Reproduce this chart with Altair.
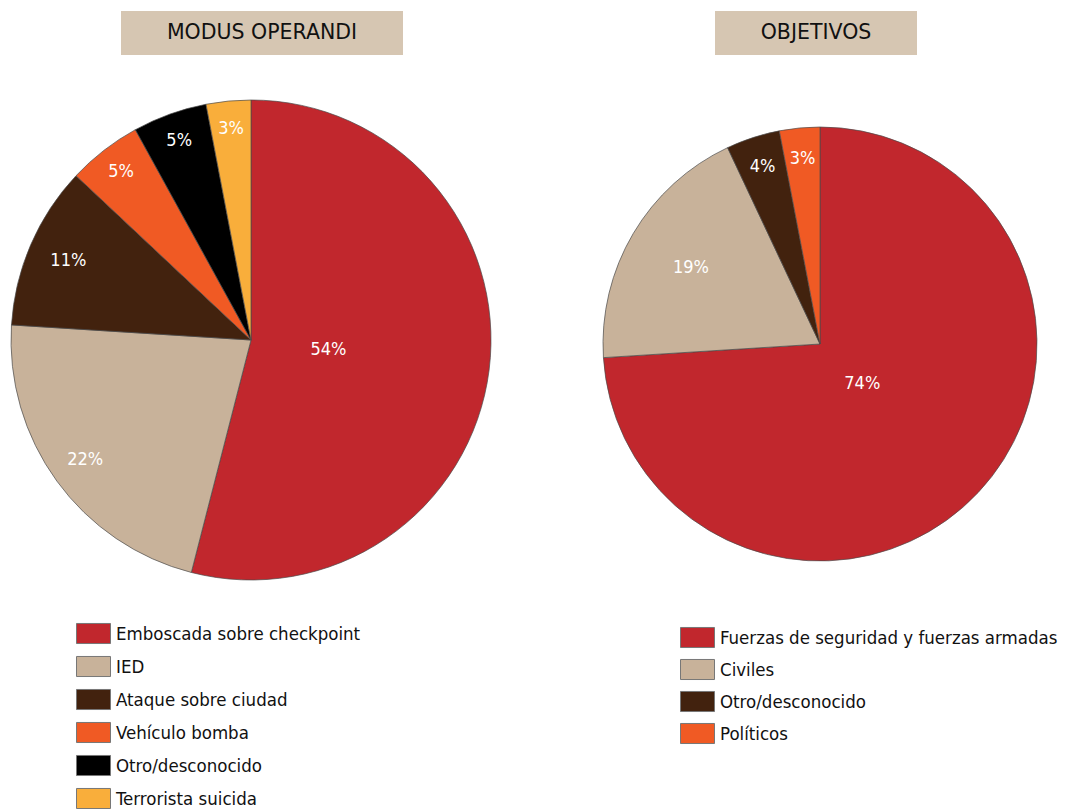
import altair as alt
import pandas as pd

# ---- data ----
modus_cats = ["Emboscada sobre checkpoint", "IED", "Ataque sobre ciudad",
              "Vehículo bomba", "Otro/desconocido", "Terrorista suicida"]
modus_vals = [54, 22, 11, 5, 5, 3]
modus_colors = ["#c1272d", "#c8b29a", "#42220e", "#f05a24", "#000000", "#f9ae3b"]

obj_cats = ["Fuerzas de seguridad y fuerzas armadas", "Civiles",
            "Otro/desconocido", "Políticos"]
obj_vals = [74, 19, 4, 3]
obj_colors = ["#c1272d", "#c8b29a", "#42220e", "#f05a24"]

titles = ["MODUS OPERANDI", "OBJETIVOS"]

FONT_NARROW = "DejaVu Sans Condensed, Liberation Sans Narrow, Liberation Sans, sans-serif"
FONT_TITLE = "DejaVu Sans, sans-serif"

df1 = pd.DataFrame({"cat": modus_cats, "pct": modus_vals, "idx": range(len(modus_cats))})
df2 = pd.DataFrame({"cat": obj_cats, "pct": obj_vals, "idx": range(len(obj_cats))})

SYM = "M-1,-0.59H1V0.59H-1Z"


def pie(df, cats, colors, cx, cy, r, lx, ly, label_expr, row_pad):
    base = alt.Chart(df)
    arc = base.mark_arc(outerRadius=r, stroke="#4a4a4a", strokeWidth=0.7).encode(
        x=alt.value(cx), y=alt.value(cy),
        theta=alt.Theta("pct:Q", stack=True),
        order=alt.Order("idx:Q"),
        color=alt.Color("cat:N", scale=alt.Scale(domain=cats, range=colors),
                        legend=alt.Legend(orient="none", legendX=lx, legendY=ly, title=None,
                                          symbolType=SYM, symbolSize=1156,
                                          symbolStrokeColor="#777", symbolStrokeWidth=1,
                                          labelFont=FONT_NARROW, labelFontSize=18.5,
                                          labelColor="#111", labelOffset=5,
                                          rowPadding=row_pad, labelLimit=500)),
    )
    text = base.transform_window(
        cum="sum(pct)", sort=[alt.SortField("idx")], frame=[None, 0]
    ).transform_calculate(
        mid="datum.cum - datum.pct / 2",
        lr=label_expr,
        label="datum.pct + '%'",
    ).mark_text(
        font=FONT_NARROW, fontSize=18, color="white", align="center", baseline="middle"
    ).encode(
        x=alt.value(cx), y=alt.value(cy),
        theta=alt.Theta("mid:Q", stack=False, scale=alt.Scale(domain=[0, 100])),
        radius=alt.Radius("lr:Q", scale=None),
        text=alt.Text("label:N"),
    )
    return alt.layer(arc, text)


pie1 = pie(df1, modus_cats, modus_colors, 243, 332, 240, 68, 608,
           "datum.pct > 50 ? 78 : (datum.pct > 15 ? 205 : (datum.pct > 8 ? 199 : 212))", 3)
pie2 = pie(df2, obj_cats, obj_colors, 812, 336, 217, 672, 612,
           "datum.pct > 50 ? 58 : (datum.pct > 15 ? 150 : 186)", 2)

tdf = pd.DataFrame({"t": titles, "i": [0, 1]})
box1 = alt.Chart(tdf).transform_filter("datum.i == 0").mark_rect(color="#d6c6b2").encode(
    x=alt.value(113), x2=alt.value(395), y=alt.value(3), y2=alt.value(47))
box2 = alt.Chart(tdf).transform_filter("datum.i == 1").mark_rect(color="#d6c6b2").encode(
    x=alt.value(707), x2=alt.value(909), y=alt.value(3), y2=alt.value(47))
t1 = alt.Chart(tdf).transform_filter("datum.i == 0").mark_text(
    font=FONT_TITLE, fontSize=20.5, color="#111", align="center", baseline="middle").encode(
    x=alt.value(254), y=alt.value(25), text="t:N")
t2 = alt.Chart(tdf).transform_filter("datum.i == 1").mark_text(
    font=FONT_TITLE, fontSize=20.5, color="#111", align="center", baseline="middle").encode(
    x=alt.value(808), y=alt.value(25), text="t:N")

chart = alt.layer(box1, box2, t1, t2, pie1, pie2).resolve_scale(
    color="independent", theta="independent"
).properties(
    width=1060, height=801, padding=0,
    autosize=alt.AutoSizeParams(type="none")
).configure_view(stroke=None)

chart.save("out.html", embed_options={"renderer": "svg", "actions": False})
